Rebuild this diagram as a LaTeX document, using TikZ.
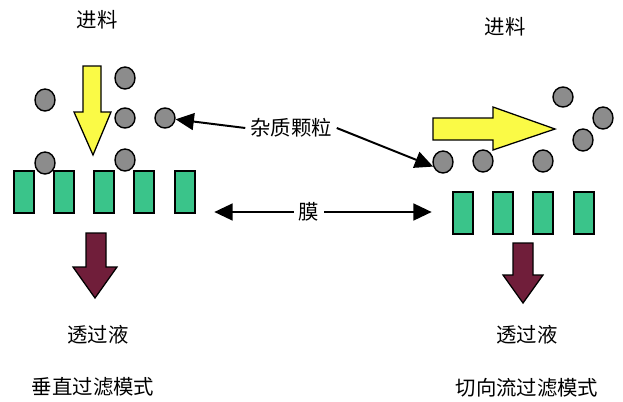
\documentclass[tikz,border=0pt]{standalone}
\usepackage{fontspec}
\newfontfamily\cjk{Noto Sans CJK SC}
\usetikzlibrary{arrows.meta}
\usetikzlibrary{shapes.geometric}

\definecolor{feedyellow}{RGB}{250,250,70}
\definecolor{memgreen}{RGB}{58,196,138}
\definecolor{permred}{RGB}{112,30,58}
\definecolor{dotgray}{RGB}{140,140,140}

\tikzset{
  lbl/.style={font=\cjk\fontsize{14.5}{17}\selectfont},
  particle/.style={ellipse,draw=black,line width=1pt,fill=dotgray,inner sep=0pt,minimum width=0.5cm,minimum height=0.55cm},
  pore/.style={rectangle,draw=black,line width=1.3pt,fill=memgreen,inner sep=0pt,minimum width=0.52cm,minimum height=1.03cm},
  flow/.style={draw=black,line width=0.9pt},
  conn/.style={-{Triangle[length=13pt,width=12pt]},line width=1.4pt}
}

\begin{document}
\begin{tikzpicture}[x=0.025cm,y=-0.025cm]
            \useasboundingbox (0,0) rectangle (623,401);
            % labels
            \node[lbl] (feedL) at (97,20) {进料};
            \node[lbl] (feedR) at (505,27) {进料};
            \node[lbl] (imp) at (291,128) {杂质颗粒};
            \node[lbl] (mo) at (309,212) {膜};
            \node[lbl] (permL) at (98,335) {透过液};
            \node[lbl] (permR) at (527,335) {透过液};
            \node[lbl] (modeL) at (93,387) {垂直过滤模式};
            \node[lbl] (modeR) at (527,388) {切向流过滤模式};
            % feed and permeate arrows
            \fill[feedyellow,flow] (83,66) -- (101,66) -- (101,112) -- (111,112) -- (93,155) -- (74,112) -- (83,112) -- cycle;
            \fill[feedyellow,flow] (433,118) -- (493,118) -- (493,107) -- (555,129) -- (493,150) -- (493,140) -- (433,140) -- cycle;
            \fill[permred,flow] (86,233) -- (106,233) -- (106,267) -- (117,267) -- (95,298) -- (73,267) -- (86,267) -- cycle;
            \fill[permred,flow] (513,243) -- (533,243) -- (533,275) -- (543,275) -- (523,303) -- (503,275) -- (513,275) -- cycle;
            % membranes
            \foreach \x [count=\i] in {24,64,104,144,185}
              \node[pore] (mL\i) at (\x,192) {};
            \foreach \x [count=\i] in {463,503,543,584}
              \node[pore] (mR\i) at (\x,213) {};
            % particles, dead-end
            \node[particle] (p1) at (45,100) {};
            \node[particle] (p2) at (125,78) {};
            \node[particle,minimum height=0.5cm] (p3) at (125,118) {};
            \node[particle,minimum height=0.5cm] (p4) at (165,118) {};
            \node[particle] (p5) at (45,163) {};
            \node[particle] (p6) at (125,160) {};
            % particles, cross-flow
            \node[particle,minimum height=0.5cm] (q1) at (563,97) {};
            \node[particle] (q2) at (603,118) {};
            \node[particle] (q3) at (583,140) {};
            \node[particle] (q4) at (443,162) {};
            \node[particle] (q5) at (483,161) {};
            \node[particle] (q6) at (543,161) {};
            % pointers
            \draw[conn] (imp.west) -- (p4);
            \draw[conn] (imp.east) -- (q4.205);
            \draw[conn] (mo.west) -- ([xshift=0.45cm]mL5.east |- mo.west);
            \draw[conn] (mo.east) -- ([xshift=-0.5cm]mR1.west |- mo.east);
        \end{tikzpicture}
\end{document}
